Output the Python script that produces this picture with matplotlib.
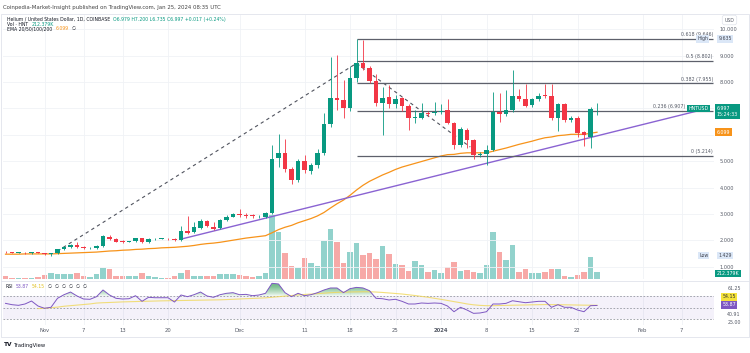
import matplotlib.pyplot as plt
import matplotlib.dates as mdates
import matplotlib.transforms as mtransforms
from matplotlib.patches import Rectangle
from matplotlib.text import Annotation
import numpy as np
import pandas as pd

# daily candles, HNT/USD (Coinbase)
dates = pd.date_range("2023-10-26", "2024-01-25", freq="D")
opens = [1.57, 1.55, 1.53, 1.54, 1.52, 1.56, 1.52, 1.49,
         1.51, 1.66, 1.76, 1.83, 1.75, 1.71, 1.71, 1.79, 2.14, 2.06,
         1.99, 1.95, 1.98, 2.08, 1.94, 2.05, 2.06, 2.06, 2.07, 2.02,
         2.34, 2.33, 2.49, 2.72, 2.52, 2.49, 2.79, 2.90, 3.00, 2.95,
         2.98, 2.92, 2.88, 3.05, 5.11, 5.33, 4.70, 4.29, 5.02, 4.62,
         4.84, 5.31, 6.40, 7.38, 7.31, 7.00, 8.17, 8.71, 8.52, 8.05,
         7.19, 7.43, 7.16, 7.41, 7.08, 6.65, 6.65, 6.83, 6.83, 6.88,
         6.93, 6.45, 5.63, 6.20, 5.79, 5.22, 5.26, 5.44, 6.87, 6.80,
         6.93, 7.46, 7.34, 7.13, 7.34, 7.50, 7.46, 6.65, 7.16, 6.58,
         6.62, 6.11, 5.92, 6.979]
highs = [1.60, 1.58, 1.56, 1.56, 1.58, 1.58, 1.54, 1.53,
         1.68, 1.80, 1.86, 1.94, 1.78, 1.75, 1.82, 2.20, 2.20, 2.08,
         2.01, 1.98, 2.10, 2.10, 2.08, 2.08, 2.08, 2.08, 2.08, 2.56,
         2.94, 2.70, 2.80, 2.78, 2.70, 2.83, 2.95, 3.05, 3.20, 3.05,
         3.02, 2.98, 3.08, 5.62, 6.05, 5.83, 4.78, 5.10, 5.25, 4.95,
         5.45, 6.83, 8.96, 9.02, 8.07, 8.60, 9.635, 9.59, 8.60, 8.30,
         7.80, 7.90, 7.50, 7.45, 7.15, 6.95, 7.20, 6.90, 7.25, 7.15,
         7.34, 6.50, 6.30, 6.25, 5.85, 5.35, 5.60, 7.63, 7.60, 7.70,
         8.45, 7.72, 7.92, 7.40, 7.60, 7.92, 7.92, 7.20, 7.20, 6.70,
         6.70, 6.15, 7.05, 7.20]
lows = [1.53, 1.52, 1.51, 1.50, 1.50, 1.51, 1.46, 1.429,
        1.49, 1.64, 1.73, 1.70, 1.66, 1.68, 1.69, 1.77, 2.00, 1.94,
        1.92, 1.93, 1.96, 1.92, 1.92, 2.02, 2.04, 2.03, 1.97, 1.98,
        2.25, 2.30, 2.45, 2.50, 2.38, 2.45, 2.75, 2.87, 2.90, 2.85,
        2.85, 2.84, 2.84, 3.00, 4.80, 4.60, 4.15, 4.20, 4.55, 4.50,
        4.75, 5.25, 6.30, 6.93, 6.63, 6.90, 8.00, 8.45, 7.95, 7.10,
        5.98, 7.00, 7.00, 6.90, 6.20, 6.45, 6.60, 6.70, 6.75, 6.80,
        6.40, 5.45, 5.55, 5.50, 5.10, 5.15, 4.84, 5.40, 6.50, 6.70,
        6.85, 7.30, 7.05, 7.05, 7.30, 7.40, 6.55, 6.14, 6.50, 6.50,
        5.90, 5.56, 5.51, 6.735]
closes = [1.55, 1.53, 1.54, 1.52, 1.56, 1.52, 1.49, 1.51,
          1.66, 1.76, 1.84, 1.75, 1.70, 1.72, 1.79, 2.17, 2.05, 1.96,
          1.95, 1.96, 2.08, 1.94, 2.06, 2.06, 2.06, 2.05, 2.00, 2.34,
          2.29, 2.52, 2.75, 2.56, 2.42, 2.79, 2.90, 3.00, 2.96, 2.94,
          2.92, 2.93, 3.05, 5.08, 5.30, 4.70, 4.29, 5.02, 4.67, 4.84,
          5.31, 6.40, 7.38, 7.31, 7.00, 8.14, 8.71, 8.54, 8.05, 7.19,
          7.41, 7.16, 7.37, 7.08, 6.62, 6.66, 6.81, 6.80, 6.87, 6.90,
          6.45, 5.60, 6.21, 5.79, 5.22, 5.27, 5.44, 6.87, 6.80, 6.96,
          7.46, 7.34, 7.11, 7.34, 7.46, 7.46, 6.65, 7.16, 6.55, 6.65,
          6.07, 5.98, 6.979, 6.997]
volumes_k = [90, 45, 30, 30, 45, 75, 135, 180,
             150, 150, 150, 195, 105, 75, 165, 330, 300, 105,
             90, 105, 90, 180, 90, 75, 30, 45, 90, 180,
             270, 90, 90, 90, 90, 150, 165, 165, 135, 90,
             75, 105, 195, 1950, 1410, 790, 390, 320, 640, 500,
             400, 1160, 1510, 1130, 500, 830, 1100, 730, 790, 600,
             990, 770, 460, 430, 240, 550, 420, 210, 270, 190,
             350, 520, 230, 270, 220, 190, 420, 1430, 810, 580,
             1020, 220, 290, 190, 180, 220, 310, 290, 100, 70,
             130, 200, 660, 212.379]
ema50 = [1.48, 1.48, 1.48, 1.49, 1.49, 1.49, 1.49, 1.49,
         1.50, 1.51, 1.52, 1.53, 1.54, 1.55, 1.56, 1.58, 1.60, 1.61,
         1.63, 1.64, 1.66, 1.67, 1.69, 1.70, 1.72, 1.73, 1.74, 1.76,
         1.78, 1.81, 1.85, 1.88, 1.90, 1.93, 1.97, 2.01, 2.05, 2.09,
         2.12, 2.15, 2.18, 2.29, 2.41, 2.50, 2.57, 2.67, 2.75, 2.83,
         2.93, 3.06, 3.23, 3.39, 3.53, 3.71, 3.91, 4.09, 4.24, 4.36,
         4.48, 4.58, 4.69, 4.78, 4.85, 4.92, 4.99, 5.06, 5.13, 5.20,
         5.25, 5.26, 5.30, 5.32, 5.32, 5.32, 5.32, 5.38, 5.44, 5.50,
         5.57, 5.64, 5.70, 5.76, 5.83, 5.89, 5.92, 5.97, 5.99, 6.02,
         6.02, 6.02, 6.06, 6.099]
rsi = [57.5, 55.2, 54.1, 56.4, 61.5, 52.9, 49.0, 50.7,
       66.2, 72.4, 77.0, 70.2, 65.0, 64.5, 69.0, 80.5, 71.9, 66.2,
       65.0, 65.5, 70.7, 61.0, 67.9, 67.2, 67.2, 67.2, 59.8, 71.9,
       69.0, 72.4, 77.0, 70.2, 67.9, 72.4, 74.8, 75.9, 72.4, 73.0,
       70.7, 71.9, 74.8, 92.0, 90.9, 75.9, 69.0, 74.8, 70.7, 72.4,
       75.9, 80.5, 84.0, 84.0, 76.0, 82.8, 85.0, 84.0, 79.3, 66.2,
       65.5, 63.3, 64.5, 61.0, 56.4, 56.4, 58.1, 57.5, 58.1, 57.5,
       52.9, 43.1, 50.7, 46.0, 40.3, 40.9, 43.1, 56.4, 56.4, 57.5,
       62.0, 60.3, 58.6, 59.8, 61.0, 61.0, 50.7, 55.2, 50.7, 50.7,
       46.0, 43.1, 53.5, 53.87]
rsi_ma_dates = pd.date_range("2023-10-31", "2024-01-25", freq="D")
rsi_ma = [48.5, 49.0, 50.0,
          51.0, 52.5, 53.5, 54.5, 55.5, 56.5, 58.0, 58.6, 59.0, 59.5,
          60.0, 60.3, 60.6, 61.0, 61.2, 61.5, 61.8, 62.0, 62.2, 62.4,
          62.6, 62.8, 63.0, 63.2, 63.4, 63.6, 64.0, 64.5, 65.0, 65.5,
          66.0, 66.5, 67.0, 68.0, 69.0, 70.0, 71.0, 72.0, 72.8, 73.5,
          74.2, 75.0, 75.9, 76.4, 76.8, 77.1, 77.3, 77.5, 77.5, 77.0,
          76.3, 75.4, 74.5, 73.6, 72.3, 71.0, 69.5, 68.0, 66.2, 64.4,
          62.5, 60.5, 58.6, 56.5, 55.0, 54.0, 53.5, 53.5, 53.8, 54.0,
          54.3, 54.5, 54.7, 55.0, 55.2, 55.4, 55.3, 55.2, 55.0, 54.8,
          54.6, 54.4, 54.3, 54.15]

# drawing tools on the chart
fib_start = "2023-12-19 00:00"
fib_end = "2024-02-11 20:00"
fib_ratios = ["0", "0.236", "0.382", "0.5", "0.618"]
fib_prices = [5.214, 6.907, 7.955, 8.802, 9.646]
fib_path_dates = ["2023-11-03 00:00", "2023-12-19 00:00", "2024-01-05 12:00"]
fib_path_prices = [1.60, 8.71, 5.54]
trend_dates = ["2023-11-22", "2024-02-11"]
trend_prices = [2.05, 7.0]

tick_dates = ["2023-11-01", "2023-11-07", "2023-11-13", "2023-11-20", "2023-12-01",
              "2023-12-11", "2023-12-18", "2023-12-25", "2024-01-01", "2024-01-08",
              "2024-01-15", "2024-01-22", "2024-02-01", "2024-02-07"]
tick_labels = ["Nov", "7", "13", "20", "Dec", "11", "18", "25", "2024", "8", "15", "22", "Feb", "7"]
price_ticks = [1, 2, 3, 4, 5, 6, 7, 8, 9, 10]
hidden_price_ticks = [6, 7]  # sit under the price tags

GREEN = "#089981"
RED = "#f23645"
VOL_G = "#92d2cc"
VOL_R = "#f7a9a7"
ORANGE = "#f7931a"
PURPLE = "#7e57c2"
YELLOW = "#f0d85a"
GRID = "#f0f2f6"
TXT = "#555a66"
DARK = "#131722"

W, H = 750, 353


def fx(px):
    return px / W


def fy(py):
    return 1 - py / H


def dn(values):
    return mdates.date2num(pd.to_datetime(values, format="ISO8601"))


fig = plt.figure(figsize=(7.5, 3.53), dpi=100, facecolor="white")

main_rect = [fx(3), fy(279), fx(711), 264 / H]
rsi_rect = [fx(3), fy(325), fx(711), 43 / H]

ax_vol = fig.add_axes(main_rect)
ax = fig.add_axes(main_rect, sharex=ax_vol)
ax.patch.set_alpha(0)
ax_rsi = fig.add_axes(rsi_rect, sharex=ax_vol)

d = mdates.date2num(dates)
o = np.array(opens)
c = np.array(closes)
up = c >= o

# volume
ax_vol.bar(d, volumes_k, width=0.82, color=np.where(up, VOL_G, VOL_R), linewidth=0)
ax_vol.set_ylim(0, 8000)
ax_vol.axis("off")

# grid
for t in dn(tick_dates):
    ax.axvline(t, color=GRID, lw=0.6, zorder=0)
    ax_rsi.axvline(t, color=GRID, lw=0.6, zorder=0)
for p in price_ticks:
    ax.axhline(p, color=GRID, lw=0.6, zorder=0)

# candles
cols = np.where(up, GREEN, RED)
ax.vlines(d, lows, highs, colors=cols, lw=0.6, zorder=3)
body_h = np.maximum(np.abs(c - o), 0.018)
ax.bar(d, body_h, bottom=np.minimum(o, c), width=0.68, color=cols, linewidth=0, zorder=4)

# EMA
ax.plot(d, ema50, color=ORANGE, lw=0.9, zorder=2)

# trend line
ax.plot(dn(trend_dates), trend_prices, color="#8a63d2", lw=1.0, zorder=2)

# fib path and levels
ax.plot(dn(fib_path_dates), fib_path_prices, color="#50535e", lw=0.8, dashes=(3, 3), zorder=2)
f0, f1 = dn([fib_start, fib_end])
ax.hlines(fib_prices, f0, f1, color="#5d606b", lw=0.9, zorder=2)
for r, p in zip(fib_ratios, fib_prices):
    # the 0.236 label sits just left of the HNTUSD tag
    xr = f1 - 4.3 if r == "0.236" else f1
    ax.text(xr, p + 0.06, f"{r} ({p:.3f})", ha="right", va="bottom", fontsize=3.4, color=TXT, zorder=5)

x0 = d[0] - 0.385
ax.set_xlim(x0, x0 + 109.385)
ax.set_ylim(0.54, 10.54)

ax.yaxis.tick_right()
ax.set_yticks(price_ticks)
ax.set_yticklabels(["" if p in hidden_price_ticks else f"{p:.3f}" for p in price_ticks])
ax.tick_params(axis="y", length=0, pad=4, labelsize=3.6, labelcolor=TXT)
ax.tick_params(axis="x", length=0, labelbottom=False)
for s in ax.spines.values():
    s.set_visible(False)

# right-side tags
trans = mtransforms.blended_transform_factory(ax.transAxes, ax.transData)
tag = dict(fontsize=3.4, zorder=10, clip_on=False)
blue_box = dict(boxstyle="square,pad=0.25", fc="#dbe7f7", ec="none")
ax.text(0.992, 9.635, "High", transform=trans, ha="right", va="center", color="#434651", bbox=blue_box, **tag)
ax.text(1.006, 9.635, "9.635", transform=trans, ha="left", va="center", color="#434651", bbox=blue_box, **tag)
ax.text(0.992, 1.429, "Low", transform=trans, ha="right", va="center", color="#434651", bbox=blue_box, **tag)
ax.text(1.006, 1.429, "1.429", transform=trans, ha="left", va="center", color="#434651", bbox=blue_box, **tag)
ax.text(0.992, closes[-1], "HNTUSD", transform=trans, ha="right", va="center", color="white",
        bbox=dict(boxstyle="square,pad=0.3", fc=GREEN, ec="none"), **tag)
ax.text(1.004, closes[-1] + 0.1, "6.997\n15:24:33", transform=trans, ha="left", va="top",
        color="white", linespacing=1.3,
        bbox=dict(boxstyle="square,pad=0.35", fc=GREEN, ec="none"), **tag)
ax.text(1.004, ema50[-1], "6.099", transform=trans, ha="left", va="center", color="white",
        bbox=dict(boxstyle="square,pad=0.3", fc=ORANGE, ec="none"), **tag)
vtrans = mtransforms.blended_transform_factory(ax_vol.transAxes, ax_vol.transData)
ax_vol.text(1.004, volumes_k[-1] - 45, "212.379K", transform=vtrans, ha="left", va="center",
            color="white", bbox=dict(boxstyle="square,pad=0.3", fc=GREEN, ec="none"),
            fontsize=3.4, zorder=10, clip_on=False)

# RSI pane
ax_rsi.axhspan(30, 70, color=PURPLE, alpha=0.08, lw=0)
for lvl in (70, 50, 30):
    ax_rsi.axhline(lvl, color="#9598a1", lw=0.6, dashes=(2, 2))
r = np.array(rsi)
for lvl in np.arange(70, 95, 1.5):
    ax_rsi.fill_between(d, lvl, r, where=r > lvl, interpolate=True, color="#2e9e4f", alpha=0.07, lw=0)
ax_rsi.plot(mdates.date2num(rsi_ma_dates), rsi_ma, color=YELLOW, lw=0.8, alpha=0.8)
ax_rsi.plot(d, rsi, color=PURPLE, lw=0.7)
ax_rsi.set_ylim(20.2, 94.3)
ax_rsi.set_yticks([])
ax_rsi.set_xticks(dn(tick_dates))
ax_rsi.set_xticklabels(tick_labels)
ax_rsi.tick_params(axis="x", length=0, pad=2, labelsize=3.8, labelcolor=TXT)
for lab in ax_rsi.get_xticklabels():
    if lab.get_text() == "2024":
        lab.set_fontweight("bold")
for s in ax_rsi.spines.values():
    s.set_visible(False)

fig.text(fx(734), fy(289), "61.25", ha="center", va="center", fontsize=3.4, color=TXT)
fig.text(fx(729), fy(297), "54.15", ha="center", va="center", fontsize=3.4, color="#333",
         bbox=dict(boxstyle="square,pad=0.25", fc="#f5e33b", ec="none"))
fig.text(fx(729), fy(305), "53.87", ha="center", va="center", fontsize=3.4, color="white",
         bbox=dict(boxstyle="square,pad=0.25", fc=PURPLE, ec="none"))
fig.text(fx(734), fy(314), "40.91", ha="center", va="center", fontsize=3.4, color=TXT)
fig.text(fx(734), fy(323), "25.00", ha="center", va="center", fontsize=3.4, color=TXT)

# frame, separators and header
fig.add_artist(Rectangle((fx(1), fy(337)), fx(748), 323 / H, transform=fig.transFigure,
                         fill=False, ec="#e0e3eb", lw=0.6))
fig.add_artist(plt.Line2D([fx(1), fx(749)], [fy(280.5), fy(280.5)], transform=fig.transFigure,
                          color="#e0e3eb", lw=0.6))
fig.text(fx(3), fy(7), "Coinpedia-Market-Insight published on TradingView.com, Jan 25, 2024 08:35 UTC",
         fontsize=3.9, color="#444", va="center")
fig.text(fx(729.5), fy(20), "USD", ha="center", va="center", fontsize=3.3, color=TXT,
         bbox=dict(boxstyle="round,pad=0.5", fc="white", ec="#e0e3eb", lw=0.5))


def legend_line(x, y, parts, fs=3.3, gap=2.2):
    # each part is placed right after the previous one
    t = fig.text(fx(x), fy(y), parts[0][0], color=parts[0][1], fontsize=fs, va="center", zorder=20)
    for s, col in parts[1:]:
        t = Annotation(s, xy=(1, 0.5), xycoords=t, xytext=(gap, 0), textcoords="offset points",
                       ha="left", va="center", fontsize=fs, color=col, annotation_clip=False)
        t.set_zorder(20)
        fig.add_artist(t)


legend_line(7, 19, [("Helium / United States Dollar, 1D, COINBASE", DARK),
                    ("O6.979 H7.200 L6.735 C6.997 +0.017 (+0.24%)", GREEN)])
legend_line(7, 24, [("Vol · HNT", DARK), ("212.379K", GREEN)])
legend_line(7, 29, [("EMA 20/50/100/200", DARK), ("6.099", ORANGE), ("∅", DARK)])
legend_line(5, 286.5, [("RSI", DARK), ("53.87", PURPLE), ("54.15", "#e0c020"),
                       ("∅  ∅  ∅  ∅  ∅  ∅", DARK)])

fig.text(fx(4), fy(345), "TV", fontsize=4.2, fontweight="bold", color=DARK, va="center")
fig.text(fx(14), fy(345), "TradingView", fontsize=3.8, color=DARK, va="center")

fig.savefig("out.png", dpi=100, facecolor="white")
